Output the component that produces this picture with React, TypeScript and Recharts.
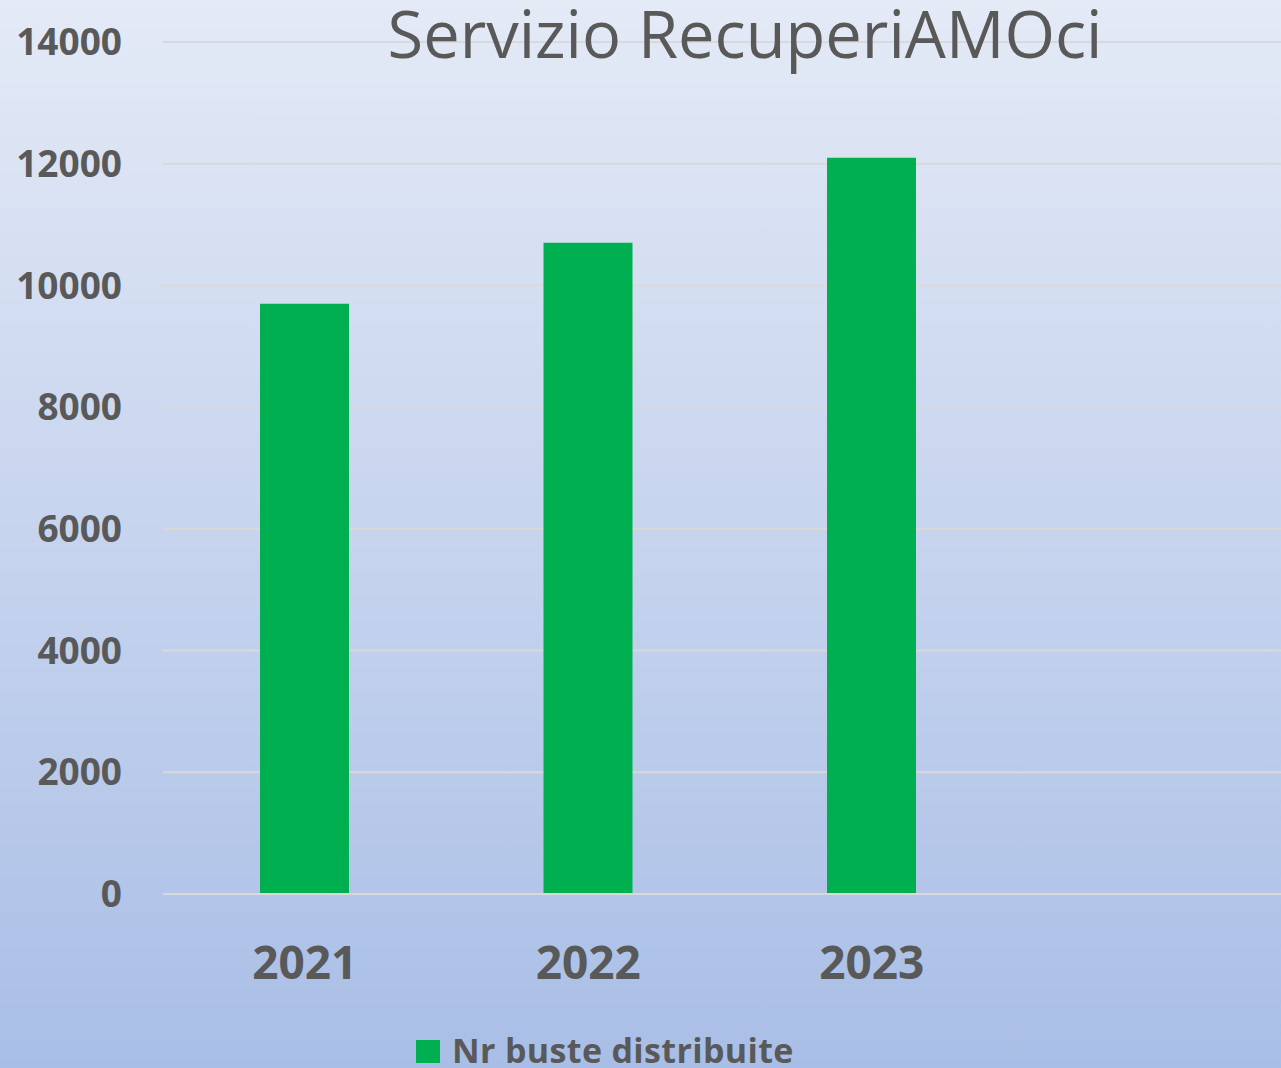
import React from 'react'
import { BarChart, Bar, XAxis, YAxis, CartesianGrid } from 'recharts'

const years = ['2021', '2022', '2023', '']
const buste = [9700, 10700, 12100, null]
const yTicks = [0, 2000, 4000, 6000, 8000, 10000, 12000, 14000]
const seriesName = 'Nr buste distribuite'
const title = 'Servizio RecuperiAMOci'

const data = years.map((y, i) => ({ anno: y, buste: buste[i] }))

const font = '"Open Sans", sans-serif'
const grey = '#595959'

const App: React.FC = () => {
  return (
    <div
      style={{
        position: 'absolute',
        left: 0,
        top: 0,
        width: 1281,
        height: 1068,
        overflow: 'hidden',
        background: 'linear-gradient(to bottom, #e4eaf6 0%, #a9bee6 100%)',
        fontFamily: font,
      }}
    >
      <BarChart
        width={1300}
        height={1068}
        data={data}
        margin={{ top: 42, right: 3, bottom: 74, left: 0 }}
      >
        <CartesianGrid vertical={false} stroke="#d9d9d9" strokeWidth={2} />
        <XAxis
          dataKey="anno"
          height={100}
          tickLine={false}
          tickSize={0}
          tickMargin={52}
          axisLine={{ stroke: '#d9d9d9', strokeWidth: 2 }}
          tick={{ fill: grey, fontSize: 46, fontWeight: 700, fontFamily: font }}
        />
        <YAxis
          width={163}
          domain={[0, 14000]}
          ticks={yTicks}
          axisLine={false}
          tickLine={false}
          tickSize={0}
          tickMargin={41}
          tick={{ fill: grey, fontSize: 37, fontWeight: 700, fontFamily: font }}
        />
        <Bar dataKey="buste" name={seriesName} fill="#00b050" barSize={89} isAnimationActive={false} />
      </BarChart>
      <svg
        width={1281}
        height={1068}
        style={{ position: 'absolute', left: 0, top: 0, pointerEvents: 'none' }}
      >
        <text x={745} y={58} textAnchor="middle" fill={grey} fontSize={65} fontFamily={font}>
          {title}
        </text>
        <rect x={416} y={1040} width={24} height={23} fill="#00b050" />
        <text
          x={452}
          y={1063}
          fill={grey}
          fontSize={34}
          fontWeight={700}
          letterSpacing={0.35}
          fontFamily={font}
        >
          {seriesName}
        </text>
      </svg>
    </div>
  )
}

export default App
